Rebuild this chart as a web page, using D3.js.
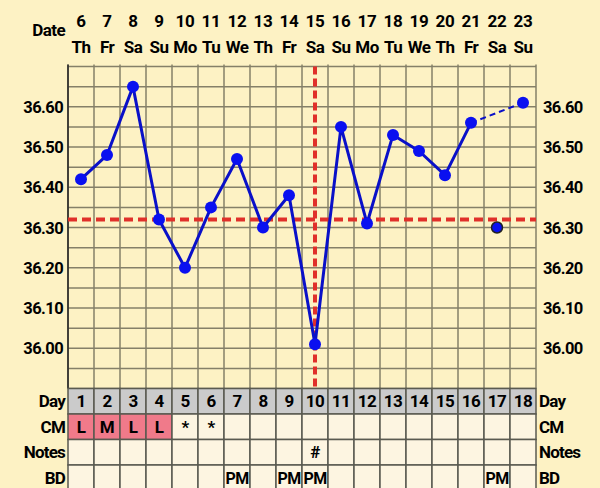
<!DOCTYPE html>
<html><head><meta charset="utf-8">
<script src="https://cdn.jsdelivr.net/npm/d3@7"></script>
<style>
html,body{margin:0;padding:0;background:#fdf2c4;}
svg{display:block;font-family:Roboto,"Liberation Sans",sans-serif;font-weight:bold;}
</style></head><body>
<svg id="c" width="600" height="488"></svg>
<script>
const days = [1,2,3,4,5,6,7,8,9,10,11,12,13,14,15,16,17,18];
const dates = [6,7,8,9,10,11,12,13,14,15,16,17,18,19,20,21,22,23];
const weekdays = ["Th","Fr","Sa","Su","Mo","Tu","We","Th","Fr","Sa","Su","Mo","Tu","We","Th","Fr","Sa","Su"];
const temps = [36.42,36.48,36.65,36.32,36.20,36.35,36.47,36.30,36.38,36.01,36.55,36.31,36.53,36.49,36.43,36.56,36.30,36.61];
const excluded = [17];
const cm = ["L","M","L","L","*","*","","","","","","","","","","","",""];
const cmPink = [true,true,true,true,false,false,false,false,false,false,false,false,false,false,false,false,false,false];
const notes = ["","","","","","","","","","#","","","","","","","",""];
const bd = ["","","","","","","PM","","PM","PM","","","","","","","PM",""];
const yTicks = [36.00,36.10,36.20,36.30,36.40,36.50,36.60];
const coverline = 36.32;
const ovulationDay = 10;
const rowLabels = ["Day","CM","Notes","BD"];

const svg = d3.select("#c");
const L = 68, R = 536, T = 66.5, B = 388.5;
const x = d3.scaleBand().domain(days).range([L,R]).padding(0);
const cx = d => x(d) + x.bandwidth()/2;
const y = d3.scaleLinear().domain([35.90,36.70]).range([B,T]);

// header
svg.append("text").attr("x",65).attr("y",36).attr("text-anchor","end").attr("font-size",17).attr("letter-spacing",-0.6).text("Date");
svg.selectAll(".dt").data(days).enter().append("text").attr("x",d=>cx(d)).attr("y",27).attr("text-anchor","middle").attr("font-size",17).attr("letter-spacing",-0.3).text((d,i)=>dates[i]);
svg.selectAll(".wd").data(days).enter().append("text").attr("x",d=>cx(d)).attr("y",52.5).attr("text-anchor","middle").attr("font-size",17).attr("letter-spacing",-0.6).text((d,i)=>weekdays[i]);

// grid
const gridColor = "#858068";
const hLines = d3.range(0,17).map(i => 35.90 + i*0.05);
svg.selectAll(".hl").data(hLines).enter().append("line")
  .attr("x1",L).attr("x2",R).attr("y1",d=>y(d)).attr("y2",d=>y(d))
  .attr("stroke",gridColor).attr("stroke-width",1.5);
const vb = days.map(d=>x(d)).concat([R]);
svg.selectAll(".vl").data(vb).enter().append("line")
  .attr("x1",d=>d).attr("x2",d=>d).attr("y1",T-2).attr("y2",B)
  .attr("stroke",gridColor).attr("stroke-width",1.5);
svg.append("line").attr("x1",L).attr("x2",L).attr("y1",T-2).attr("y2",B).attr("stroke","#222").attr("stroke-width",1.5);

// y axis labels
[["left",L-5,"end"],["right",R+7,"start"]].forEach(([k,xx,anc])=>{
  svg.selectAll(".yl"+k).data(yTicks).enter().append("text")
   .attr("x",xx).attr("y",d=>y(d)+6).attr("text-anchor",anc).attr("font-size",16.5).attr("letter-spacing",-0.6)
   .text(d=>d3.format(".2f")(d));
});

// table
const rowH = 25.5;
const rows = [0,1,2,3];
rows.forEach(r=>{
  const ry = B + r*rowH;
  svg.selectAll(".cell"+r).data(days).enter().append("rect")
    .attr("x",d=>x(d)).attr("y",ry).attr("width",x.bandwidth()).attr("height",rowH)
    .attr("fill",(d,i)=> r===0 ? "#cbcbcb" : (r===1 && cmPink[i] ? "#f07a8a" : "#fdf5e1"))
    .attr("stroke","#5a5a50").attr("stroke-width",1.5);
  svg.append("text").attr("x",L-3).attr("y",ry+rowH/2+6).attr("text-anchor","end").attr("font-size",17).attr("letter-spacing",-0.8).text(rowLabels[r]);
  svg.append("text").attr("x",R+3).attr("y",ry+rowH/2+6).attr("text-anchor","start").attr("font-size",17).attr("letter-spacing",-0.8).text(rowLabels[r]);
});
const rowData = [days.map(String), cm, notes, bd];
rows.forEach(r=>{
  const ry = B + r*rowH;
  svg.selectAll(".ct"+r).data(days).enter().append("text")
    .attr("x",d=>cx(d)).attr("y",ry+rowH/2+6).attr("text-anchor","middle").attr("font-size",r===3?16:17).attr("letter-spacing",-0.6)
    .text((d,i)=>rowData[r][i]);
});

// coverline & ovulation line
svg.append("line").attr("x1",L).attr("x2",R).attr("y1",y(coverline)).attr("y2",y(coverline))
  .attr("stroke","#e0302a").attr("stroke-width",4).attr("stroke-dasharray","9,5");
svg.append("line").attr("x1",cx(ovulationDay)).attr("x2",cx(ovulationDay)).attr("y1",T).attr("y2",B+2)
  .attr("stroke","#e0302a").attr("stroke-width",4).attr("stroke-dasharray","8,4");

// temperature line
const pts = days.map((d,i)=>({d,t:temps[i]}));
const incl = pts.filter(p=>!excluded.includes(p.d));
const solid = incl.filter(p=>p.d<=16);
const line = d3.line().x(p=>cx(p.d)).y(p=>y(p.t));
svg.append("path").datum(solid).attr("d",line).attr("fill","none").attr("stroke","#0a10c8").attr("stroke-width",3).attr("stroke-linejoin","round");
svg.append("path").datum(incl.filter(p=>p.d>=16)).attr("d",line).attr("fill","none").attr("stroke","#0a10c8").attr("stroke-width",2).attr("stroke-dasharray","6,4");
svg.selectAll(".pt").data(pts).enter().append("circle")
  .attr("cx",p=>cx(p.d)).attr("cy",p=>y(p.t)).attr("r",p=>excluded.includes(p.d)?5.5:6)
  .attr("fill","#0a10f0")
  .attr("stroke",p=>excluded.includes(p.d)?"#222":"none").attr("stroke-width",1.5);
</script>
</body></html>
